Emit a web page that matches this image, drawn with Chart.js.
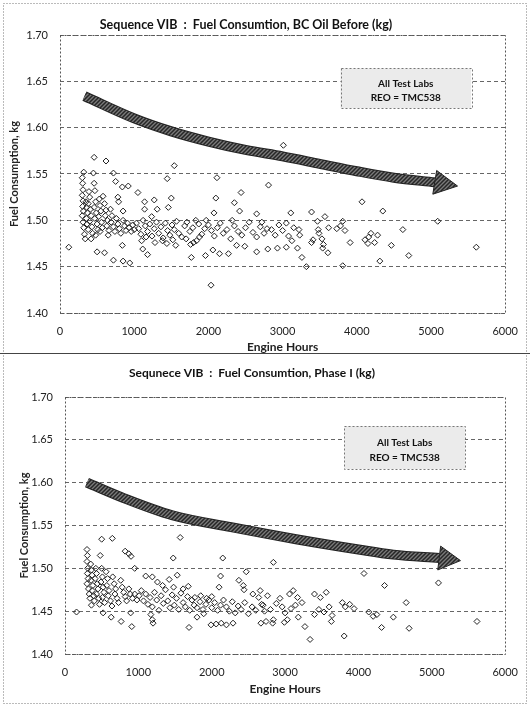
<!DOCTYPE html>
<html>
<head>
<meta charset="utf-8">
<script src="https://cdn.jsdelivr.net/npm/chart.js@4.4.1/dist/chart.umd.min.js"></script>
<style>
  html, body { margin: 0; padding: 0; background: #fff; }
  #wrap { position: relative; width: 530px; height: 705px; }
  canvas { position: absolute; left: 0; }
  #top { top: 0; }
  #bottom { top: 355px; }
</style>
</head>
<body>
<div id="wrap">
  <canvas id="top" width="530" height="355"></canvas>
  <canvas id="bottom" width="530" height="350"></canvas>
</div>
<script>
// axis ticks
const hour_ticks = [0, 1000, 2000, 3000, 4000, 5000, 6000];
const fuel_ticks = [1.40, 1.45, 1.50, 1.55, 1.60, 1.65, 1.70];

// chart 1: BC oil before, [engine hours, kg]
const bc_points = [
  [118,1.471],[460,1.568],[620,1.564],[320,1.552],[450,1.551],[720,1.551],[750,1.542],[840,1.536],[920,1.537],[580,1.526],
  [780,1.525],[790,1.520],[1050,1.530],[1140,1.520],[1270,1.522],[1445,1.545],[1460,1.514],[1540,1.559],[1500,1.524],[850,1.510],
  [1140,1.512],[1310,1.512],[1235,1.504],[500,1.466],[600,1.465],[720,1.457],[850,1.456],[940,1.454],[840,1.473],[1115,1.469],
  [1180,1.463],[1770,1.460],[1960,1.462],[2060,1.468],[2150,1.464],[2270,1.464],[2035,1.430],[2115,1.546],[2100,1.524],[2440,1.530],
  [2810,1.538],[2350,1.519],[2420,1.510],[2075,1.508],[2650,1.507],[3110,1.508],[2320,1.500],[1970,1.500],[2720,1.498],[2790,1.491],
  [3010,1.581],[2650,1.466],[2800,1.469],[2930,1.470],[3050,1.471],[2380,1.473],[2490,1.472],[1800,1.476],[1880,1.482],[4070,1.520],
  [4350,1.510],[3390,1.509],[3570,1.504],[3810,1.499],[3470,1.499],[3480,1.490],[3490,1.486],[3620,1.492],[3730,1.491],[3780,1.494],
  [3840,1.489],[3220,1.490],[3230,1.484],[4190,1.486],[4620,1.490],[5090,1.499],[3125,1.478],[3390,1.476],[3410,1.479],[3530,1.480],
  [3550,1.474],[3540,1.470],[3610,1.465],[3910,1.476],[4110,1.479],[4150,1.475],[4240,1.476],[4465,1.473],[3200,1.470],[3260,1.460],
  [3320,1.450],[3810,1.451],[4310,1.456],[4700,1.462],[5610,1.471],[4160,1.482],[4280,1.484],
  [300,1.546],[305,1.540],[310,1.533],[300,1.527],[310,1.521],[305,1.515],[315,1.510],[300,1.505],[310,1.498],[320,1.492],
  [330,1.485],[340,1.480],[350,1.520],[360,1.514],[370,1.508],[355,1.502],[365,1.496],[380,1.490],[390,1.531],[400,1.525],
  [380,1.518],[410,1.512],[420,1.505],[400,1.499],[430,1.493],[440,1.486],[420,1.480],[460,1.540],[470,1.532],[480,1.520],
  [460,1.514],[490,1.508],[470,1.502],[500,1.496],[510,1.490],[480,1.484],[530,1.523],[540,1.516],[550,1.510],[520,1.504],
  [560,1.498],[570,1.492],[540,1.488],[600,1.518],[620,1.511],[610,1.505],[640,1.500],[630,1.494],[660,1.489],[650,1.484],
  [680,1.512],[700,1.505],[690,1.498],[720,1.493],[740,1.488],[760,1.502],[780,1.496],[800,1.491],[820,1.486],[850,1.500],
  [870,1.494],[890,1.489],[910,1.497],[930,1.492],[960,1.488],[980,1.495],[1000,1.490],
  [1030,1.497],[1060,1.491],[1090,1.485],[1120,1.500],[1150,1.494],[1180,1.488],[1210,1.496],[1240,1.483],[1270,1.491],[1300,1.498],
  [1330,1.486],[1360,1.493],[1390,1.481],[1420,1.497],[1450,1.489],[1480,1.484],[1510,1.495],[1540,1.490],[1570,1.499],[1600,1.486],
  [1640,1.482],[1680,1.494],[1710,1.498],[1750,1.488],[1790,1.492],[1830,1.500],[1870,1.496],[1910,1.485],[1950,1.491],[2000,1.495],
  [2040,1.489],[2080,1.483],[2120,1.492],[2160,1.497],[2200,1.486],[2250,1.490],[2300,1.480],[2350,1.494],[2400,1.488],[2450,1.484],
  [2500,1.492],[2550,1.498],[2600,1.487],[2650,1.482],[2700,1.493],[2750,1.486],[2850,1.490],[2900,1.484],[2950,1.495],[3000,1.489],
  [3050,1.497],[3080,1.483],[3150,1.492],[1100,1.478],[1160,1.482],[1280,1.476],[1380,1.478],[1440,1.475],[1520,1.479],[1560,1.473],
  [1700,1.480],[1760,1.474],[1840,1.478]
];
const bc_arrow_hours = [330, 1000, 1500, 2000, 2500, 3000, 3500, 4000, 4500, 5050];
const bc_arrow_fuel = [1.634, 1.610, 1.596, 1.585, 1.576, 1.569, 1.561, 1.553, 1.546, 1.541];
const bc_arrow_tip = [5357, 1.537];

// chart 2: phase I, [engine hours, kg]
const p1_points = [
  [157,1.449],[645,1.535],[500,1.534],[1570,1.536],[1475,1.512],[2150,1.512],[2120,1.491],[2100,1.478],[1530,1.492],[2470,1.496],
  [2370,1.486],[820,1.520],[870,1.517],[900,1.514],[950,1.500],[1100,1.491],[1190,1.490],[2430,1.480],[2440,1.475],[1800,1.443],
  [1890,1.447],[1690,1.431],[1990,1.434],[2060,1.435],[2130,1.436],[2200,1.434],[2290,1.436],[630,1.443],[765,1.438],[910,1.432],
  [895,1.448],[1190,1.440],[1170,1.446],[1200,1.436],[360,1.457],[520,1.448],[2840,1.507],[4075,1.494],[4355,1.480],[5090,1.483],
  [5615,1.438],[4650,1.460],[4475,1.443],[4690,1.430],[4315,1.431],[4140,1.449],[4200,1.444],[4250,1.446],[3805,1.421],[3340,1.417],
  [3270,1.432],[3630,1.438],[3400,1.470],[3480,1.466],[3560,1.472],[3780,1.460],[3820,1.455],[3880,1.458],[3940,1.453],[3110,1.474],
  [3170,1.466],[3230,1.460],[2930,1.465],[2960,1.455],[3000,1.448],[3030,1.440],[2740,1.438],[2830,1.436],[2640,1.466],[2680,1.458],
  [2720,1.450],[3400,1.446],[3460,1.452],[3530,1.449],[3600,1.455],[3640,1.445],[3140,1.457],[3180,1.443],[2670,1.436],[2840,1.440],
  [2990,1.437],[1770,1.466],[1850,1.468],[1930,1.465],[2000,1.467],[2560,1.470],[2660,1.474],[2760,1.468],[3060,1.470],
  [300,1.522],[305,1.515],[300,1.508],[310,1.500],[305,1.494],[315,1.488],[300,1.482],[320,1.476],[330,1.470],[340,1.465],
  [350,1.505],[360,1.498],[370,1.492],[355,1.486],[380,1.480],[370,1.474],[390,1.468],[400,1.462],[420,1.500],[430,1.494],
  [410,1.488],[440,1.482],[450,1.476],[430,1.470],[460,1.465],[470,1.458],[480,1.515],[500,1.500],[510,1.490],[490,1.484],
  [520,1.478],[530,1.472],[510,1.466],[540,1.460],[560,1.496],[580,1.488],[570,1.480],[600,1.474],[590,1.468],[620,1.462],
  [640,1.456],[650,1.490],[670,1.482],[690,1.476],[680,1.470],[710,1.465],[730,1.460],[760,1.486],[780,1.478],[800,1.472],
  [820,1.467],[840,1.462],[870,1.476],[890,1.470],[920,1.465],[950,1.470],[980,1.463],
  [1010,1.468],[1040,1.474],[1070,1.462],[1100,1.470],[1130,1.458],[1160,1.466],[1190,1.455],[1220,1.472],[1250,1.463],[1280,1.451],
  [1310,1.468],[1340,1.459],[1370,1.475],[1400,1.462],[1430,1.454],[1460,1.469],[1490,1.457],[1520,1.465],[1550,1.452],[1580,1.471],
  [1610,1.460],[1640,1.455],[1670,1.467],[1700,1.451],[1730,1.463],[1760,1.457],[1800,1.454],[1840,1.461],[1880,1.452],[1920,1.458],
  [1960,1.463],[2000,1.454],[2040,1.460],[2080,1.451],[2120,1.457],[2160,1.463],[2200,1.455],[2240,1.450],[2280,1.461],[2320,1.448],
  [2360,1.456],[2400,1.452],[2450,1.460],[2500,1.447],[2550,1.455],[2600,1.451],[2700,1.457],[2800,1.452],[2880,1.459],[3080,1.453],
  [1260,1.484],[1330,1.480],[1420,1.487],[1480,1.478],[1610,1.476],[1680,1.479]
];
const p1_arrow_hours = [300, 800, 1460, 2265, 3150, 4000, 4475, 5100];
const p1_arrow_fuel = [1.600, 1.582, 1.562, 1.548, 1.534, 1.522, 1.516, 1.512];
const p1_arrow_tip = [5390, 1.509];

const FONT = "Lato, 'Open Sans', sans-serif";

function hatchPattern() {
    const c = document.createElement('canvas');
    c.width = 4; c.height = 4;
    const g = c.getContext('2d');
    g.fillStyle = '#7a7a7a';
    g.fillRect(0, 0, 4, 4);
    g.strokeStyle = '#262626';
    g.lineWidth = 1.5;
    g.beginPath();
    g.moveTo(0, 4); g.lineTo(4, 0);
    g.moveTo(-1, 1); g.lineTo(1, -1);
    g.moveTo(3, 5); g.lineTo(5, 3);
    g.stroke();
    return g.createPattern(c, 'repeat');
}

const decor = {
    id: 'decor',
    afterDatasetsDraw(chart, args, o) {
        const ctx = chart.ctx, ca = chart.chartArea;
        const xs = chart.scales.x, ys = chart.scales.y;
        ctx.save();

        // arrow head
        const n = o.arrowHours.length - 1;
        const bx = xs.getPixelForValue(o.arrowHours[n]), by = ys.getPixelForValue(o.arrowFuel[n]);
        const tx = xs.getPixelForValue(o.tip[0]), ty = ys.getPixelForValue(o.tip[1]);
        let dx = tx - bx, dy = ty - by;
        const len = Math.hypot(dx, dy);
        dx /= len; dy /= len;
        const hw = 12;
        ctx.beginPath();
        ctx.moveTo(bx - dy * hw, by + dx * hw);
        ctx.lineTo(tx, ty);
        ctx.lineTo(bx + dy * hw, by - dx * hw);
        ctx.closePath();
        ctx.fillStyle = o.pattern;
        ctx.fill();
        ctx.strokeStyle = '#222';
        ctx.lineWidth = 1;
        ctx.stroke();

        // plot frame
        ctx.setLineDash([2, 2]);
        ctx.strokeStyle = '#555';
        ctx.strokeRect(Math.round(ca.left) + 0.5, Math.round(ca.top) + 0.5,
                       Math.round(ca.width), Math.round(ca.height));

        // label box
        const x1 = xs.getPixelForValue(o.box[0]), x2 = xs.getPixelForValue(o.box[1]);
        const y1 = ys.getPixelForValue(o.box[2]), y2 = ys.getPixelForValue(o.box[3]);
        ctx.setLineDash([]);
        ctx.fillStyle = '#ebebeb';
        ctx.fillRect(x1, y1, x2 - x1, y2 - y1);
        ctx.setLineDash([2, 2]);
        ctx.strokeStyle = '#777';
        ctx.strokeRect(Math.round(x1) + 0.5, Math.round(y1) + 0.5, Math.round(x2 - x1), Math.round(y2 - y1));
        ctx.fillStyle = '#111';
        ctx.font = 'bold 10px ' + FONT;
        ctx.textAlign = 'center';
        ctx.textBaseline = 'middle';
        const cx = (x1 + x2) / 2, h = y2 - y1;
        ctx.fillText('All Test Labs', cx, y1 + h * 0.38);
        ctx.fillText('REO = TMC538', cx, y1 + h * 0.74);

        // title
        ctx.font = 'bold ' + o.titleSize + 'px ' + FONT;
        ctx.fillText(o.title, o.titleX, o.titleY);

        // outer frame
        ctx.setLineDash([1, 2]);
        ctx.strokeStyle = '#777';
        ctx.strokeRect(3.5, o.frameTop + 0.5, chart.width - 7, chart.height - o.frameTop - 2);
        if (o.solidBottom) {
            ctx.setLineDash([]);
            ctx.strokeStyle = '#444';
            ctx.beginPath();
            ctx.moveTo(0, chart.height - 1.5);
            ctx.lineTo(chart.width, chart.height - 1.5);
            ctx.stroke();
        }
        ctx.restore();
    }
};

function createChart(canvas, s) {
    const pattern = hatchPattern();
    const arrow = s.arrowHours.map((h, i) => ({x: h, y: s.arrowFuel[i]}));
    return new Chart(canvas, {
        type: 'scatter',
        data: {
            datasets: [
                {
                    data: s.points.map(p => ({x: p[0], y: p[1]})),
                    pointStyle: 'rectRot',
                    pointRadius: 3,
                    borderColor: '#222',
                    borderWidth: 1,
                    backgroundColor: 'rgba(255,255,255,0)',
                    order: 1
                },
                {
                    data: arrow, showLine: true, pointRadius: 0,
                    borderColor: pattern, borderWidth: 8, tension: 0.4,
                    cubicInterpolationMode: 'monotone', order: 2
                },
                {
                    data: arrow, showLine: true, pointRadius: 0,
                    borderColor: '#222', borderWidth: 10, tension: 0.4,
                    cubicInterpolationMode: 'monotone', order: 3
                }
            ]
        },
        options: {
            responsive: false,
            animation: false,
            devicePixelRatio: 1,
            layout: {padding: {top: s.top, left: 0, right: s.right, bottom: 0}},
            plugins: {
                legend: {display: false},
                tooltip: {enabled: false},
                decor: {
                    pattern: pattern,
                    arrowHours: s.arrowHours, arrowFuel: s.arrowFuel, tip: s.tip,
                    box: s.box, title: s.title, titleX: s.titleX, titleY: s.titleY, titleSize: s.titleSize,
                    frameTop: s.frameTop, solidBottom: s.solidBottom
                }
            },
            scales: {
                x: {
                    type: 'linear', min: 0, max: 6000,
                    afterBuildTicks: sc => { sc.ticks = hour_ticks.map(v => ({value: v})); },
                    afterFit: sc => { sc.height = s.xHeight; },
                    grid: {display: false, drawTicks: false},
                    border: {display: false},
                    ticks: {padding: 12, color: '#222', font: {family: FONT, size: 11},
                            callback: v => String(v)},
                    title: {display: true, text: 'Engine Hours', color: '#222',
                            font: {family: FONT, size: 12, weight: 'bold'}, padding: {top: 0, bottom: s.xTitlePad}}
                },
                y: {
                    type: 'linear', min: 1.40, max: 1.70,
                    afterBuildTicks: sc => { sc.ticks = fuel_ticks.map(v => ({value: v})); },
                    afterFit: sc => { sc.width = s.left; },
                    grid: {color: '#666', drawTicks: false},
                    border: {display: false, dash: [4, 3]},
                    ticks: {padding: 12, color: '#222', font: {family: FONT, size: 11},
                            callback: v => v.toFixed(2)},
                    title: {display: true, text: 'Fuel Consumption, kg', color: '#222',
                            font: {family: FONT, size: 11, weight: 'bold'}, padding: {top: s.yTitlePad, bottom: 0}}
                }
            }
        },
        plugins: [decor]
    });
}

window.addEventListener("load", function(){
    createChart(document.getElementById('top'), {
        points: bc_points, arrowHours: bc_arrow_hours, arrowFuel: bc_arrow_fuel, tip: bc_arrow_tip,
        box: [3780, 5540, 1.664, 1.621],
        title: 'Sequence VIB  :  Fuel Consumtion, BC Oil Before (kg)', titleX: 246, titleY: 25, titleSize: 12.5,
        top: 35, right: 13, left: 60, xHeight: 42, xTitlePad: 1, yTitlePad: 8,
        frameTop: 3, solidBottom: true
    });
    createChart(document.getElementById('bottom'), {
        points: p1_points, arrowHours: p1_arrow_hours, arrowFuel: p1_arrow_fuel, tip: p1_arrow_tip,
        box: [3808, 5451, 1.666, 1.616],
        title: 'Sequnece VIB  :  Fuel Consumtion, Phase I (kg)', titleX: 252, titleY: 18, titleSize: 12,
        top: 42, right: 16, left: 65, xHeight: 51, xTitlePad: 9, yTitlePad: 18,
        frameTop: -2, solidBottom: false
    });
});
</script>
</body>
</html>
